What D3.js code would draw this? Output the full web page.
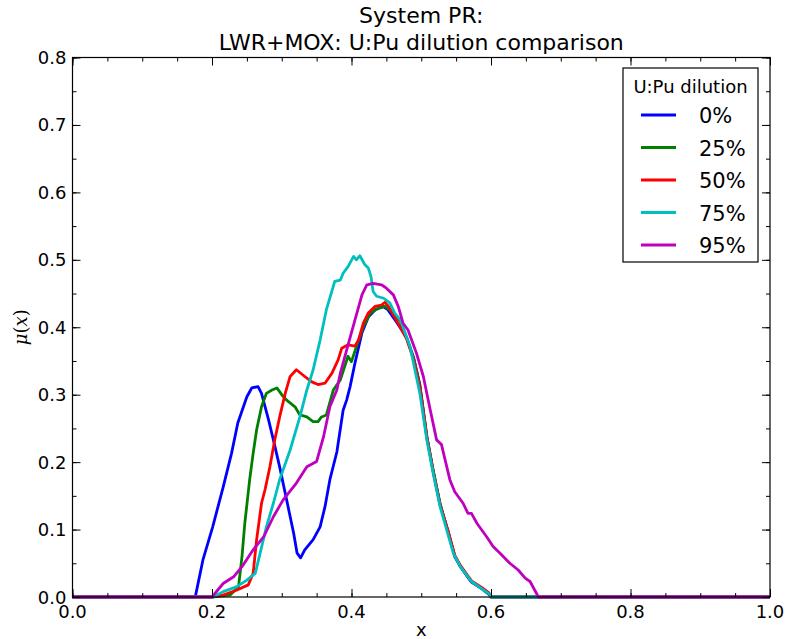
<!DOCTYPE html>
<html>
<head>
<meta charset="UTF-8">
<title>System PR</title>
<script src="https://d3js.org/d3.v7.min.js"></script>
<style>
  body {margin:0; background:#fff;}
  text {font-family: "DejaVu Sans", sans-serif; fill:#000;}
  .line {fill:none; stroke-width:2.8; stroke-linejoin:round;}
</style>
</head>
<body>
<div id="chart"></div>
<script>
// series
var labels = ["0%", "25%", "50%", "75%", "95%"];
var colors = ["#0000ff", "#008000", "#ff0000", "#00bfbf", "#bf00bf"];

var x0 = [0, 0.176, 0.181, 0.187, 0.201, 0.216, 0.228, 0.237, 0.250, 0.257, 0.266, 0.271, 0.281, 0.288, 0.297, 0.307, 0.317, 0.322, 0.327, 0.333, 0.345, 0.355, 0.362, 0.369, 0.379, 0.388, 0.393, 0.398, 0.405, 0.415, 0.424, 0.434, 0.445, 0.452, 0.465, 0.479, 0.489, 0.498, 0.508, 0.517, 0.527, 0.539, 0.548, 0.556, 0.565, 0.572, 0.587, 0.597, 0.600, 1.0];
var y0 = [0, 0, 0.025, 0.055, 0.104, 0.163, 0.213, 0.258, 0.297, 0.310, 0.312, 0.302, 0.263, 0.233, 0.193, 0.144, 0.095, 0.065, 0.058, 0.070, 0.085, 0.104, 0.134, 0.174, 0.215, 0.277, 0.292, 0.312, 0.347, 0.392, 0.415, 0.426, 0.431, 0.426, 0.407, 0.385, 0.355, 0.315, 0.238, 0.188, 0.138, 0.095, 0.060, 0.045, 0.032, 0.022, 0.012, 0.004, 0, 0];

var x25 = [0, 0.200, 0.226, 0.238, 0.243, 0.247, 0.254, 0.259, 0.264, 0.271, 0.278, 0.286, 0.293, 0.300, 0.307, 0.319, 0.326, 0.336, 0.345, 0.352, 0.357, 0.364, 0.374, 0.384, 0.395, 0.400, 0.407, 0.417, 0.427, 0.438, 0.448, 0.458, 0.470, 0.479, 0.489, 0.498, 0.508, 0.517, 0.527, 0.539, 0.548, 0.556, 0.565, 0.572, 0.587, 0.597, 0.600, 1.0];
var y25 = [0, 0, 0.003, 0.015, 0.060, 0.109, 0.174, 0.213, 0.248, 0.282, 0.302, 0.307, 0.310, 0.300, 0.292, 0.282, 0.270, 0.267, 0.260, 0.260, 0.267, 0.270, 0.307, 0.322, 0.357, 0.349, 0.371, 0.401, 0.421, 0.428, 0.431, 0.423, 0.409, 0.384, 0.354, 0.313, 0.236, 0.188, 0.138, 0.094, 0.061, 0.046, 0.033, 0.023, 0.013, 0.005, 0, 0];

var x50 = [0, 0.202, 0.216, 0.235, 0.252, 0.259, 0.264, 0.271, 0.276, 0.283, 0.290, 0.297, 0.305, 0.312, 0.321, 0.333, 0.343, 0.352, 0.362, 0.372, 0.381, 0.386, 0.395, 0.405, 0.410, 0.417, 0.424, 0.434, 0.443, 0.448, 0.453, 0.465, 0.479, 0.489, 0.498, 0.508, 0.517, 0.527, 0.539, 0.548, 0.556, 0.565, 0.572, 0.587, 0.597, 0.600, 1.0];
var y50 = [0, 0, 0.003, 0.010, 0.018, 0.035, 0.085, 0.139, 0.159, 0.193, 0.233, 0.267, 0.302, 0.327, 0.337, 0.327, 0.319, 0.315, 0.317, 0.332, 0.352, 0.369, 0.374, 0.372, 0.381, 0.406, 0.421, 0.431, 0.433, 0.437, 0.431, 0.409, 0.383, 0.352, 0.311, 0.238, 0.186, 0.136, 0.096, 0.062, 0.047, 0.034, 0.024, 0.014, 0.006, 0, 0];

var x75 = [0, 0.202, 0.216, 0.235, 0.250, 0.262, 0.269, 0.278, 0.288, 0.297, 0.312, 0.326, 0.336, 0.345, 0.355, 0.364, 0.376, 0.384, 0.388, 0.395, 0.403, 0.407, 0.412, 0.419, 0.424, 0.428, 0.431, 0.436, 0.446, 0.455, 0.462, 0.470, 0.484, 0.498, 0.508, 0.517, 0.527, 0.546, 0.556, 0.572, 0.599, 0.600, 1.0];
var y75 = [0, 0, 0.008, 0.015, 0.025, 0.035, 0.065, 0.104, 0.139, 0.174, 0.218, 0.267, 0.307, 0.337, 0.381, 0.426, 0.468, 0.470, 0.480, 0.490, 0.505, 0.500, 0.506, 0.493, 0.488, 0.475, 0.453, 0.446, 0.443, 0.436, 0.421, 0.411, 0.371, 0.302, 0.233, 0.184, 0.134, 0.065, 0.045, 0.023, 0.003, 0, 0];

var x95 = [0, 0.200, 0.216, 0.231, 0.243, 0.259, 0.274, 0.288, 0.302, 0.321, 0.336, 0.350, 0.360, 0.369, 0.379, 0.384, 0.393, 0.405, 0.415, 0.422, 0.431, 0.443, 0.450, 0.460, 0.467, 0.474, 0.481, 0.493, 0.503, 0.513, 0.522, 0.529, 0.541, 0.548, 0.560, 0.567, 0.572, 0.580, 0.594, 0.603, 0.613, 0.627, 0.639, 0.649, 0.656, 0.668, 1.0];
var y95 = [0, 0, 0.020, 0.030, 0.045, 0.070, 0.089, 0.119, 0.144, 0.169, 0.193, 0.201, 0.238, 0.282, 0.307, 0.332, 0.366, 0.411, 0.448, 0.463, 0.465, 0.463, 0.458, 0.448, 0.431, 0.406, 0.396, 0.362, 0.327, 0.277, 0.233, 0.226, 0.174, 0.156, 0.139, 0.124, 0.124, 0.109, 0.089, 0.075, 0.065, 0.050, 0.040, 0.028, 0.023, 0, 0];

var xTicks = [0, 0.2, 0.4, 0.6, 0.8, 1.0];
var yTicks = [0, 0.1, 0.2, 0.3, 0.4, 0.5, 0.6, 0.7, 0.8];

var series = [[x0, y0], [x25, y25], [x50, y50], [x75, y75], [x95, y95]];

var W = 787, H = 639;
var margin = {top: 57.5, right: 17, bottom: 42, left: 72.5},
    width = W - margin.left - margin.right,
    height = H - margin.top - margin.bottom;

var x = d3.scaleLinear().domain([0, 1]).range([0, width]);
var y = d3.scaleLinear().domain([0, 0.8]).range([height, 0]);

var svg = d3.select("#chart").append("svg")
    .attr("width", W)
    .attr("height", H);

var g = svg.append("g")
    .attr("transform", "translate(" + margin.left + "," + margin.top + ")");

// curves
var line = d3.line().x(function(d) { return x(d[0]); }).y(function(d) { return y(d[1]); });
series.forEach(function(s, i) {
  var pts = s[0].map(function(v, j) { return [v, s[1][j]]; });
  g.append("path").attr("class", "line").attr("d", line(pts)).attr("stroke", colors[i]);
});

// ticks inside, on all four sides
var minorX = d3.range(0, 1.0001, 0.05), minorY = d3.range(0, 0.8001, 0.05);
function tickAxis(axis, ticks, len) {
  return axis.tickValues(ticks).tickSize(-len).tickFormat("");
}
var axes = g.append("g").attr("class", "ticks");
axes.append("g").attr("transform", "translate(0," + height + ")").call(tickAxis(d3.axisBottom(x), minorX, 4));
axes.append("g").attr("transform", "translate(0," + height + ")").call(tickAxis(d3.axisBottom(x), xTicks, 8));
axes.append("g").call(tickAxis(d3.axisTop(x), minorX, 4));
axes.append("g").call(tickAxis(d3.axisTop(x), xTicks, 8));
axes.append("g").call(tickAxis(d3.axisLeft(y), minorY, 4));
axes.append("g").call(tickAxis(d3.axisLeft(y), yTicks, 8));
axes.append("g").attr("transform", "translate(" + width + ",0)").call(tickAxis(d3.axisRight(y), minorY, 4));
axes.append("g").attr("transform", "translate(" + width + ",0)").call(tickAxis(d3.axisRight(y), yTicks, 8));
axes.selectAll(".domain").remove();
axes.selectAll("line").attr("stroke", "#000").attr("stroke-width", 1);

g.append("rect").attr("width", width).attr("height", height)
  .attr("fill", "none").attr("stroke", "#000").attr("stroke-width", 1.2);

// tick labels
g.selectAll(".xl").data(xTicks).enter().append("text")
  .attr("x", function(d) { return x(d); }).attr("y", height + 21)
  .attr("text-anchor", "middle").style("font-size", "18px")
  .text(function(d) { return d.toFixed(1); });
g.selectAll(".yl").data(yTicks).enter().append("text")
  .attr("x", -6).attr("y", function(d) { return y(d) + 6.5; })
  .attr("text-anchor", "end").style("font-size", "18px")
  .text(function(d) { return d.toFixed(1); });

// axis labels
svg.append("text").attr("x", margin.left + width / 2).attr("y", 636)
  .attr("text-anchor", "middle").style("font-size", "18px").text("x");
var yl = svg.append("text").attr("transform", "translate(27," + (margin.top + height / 2) + ") rotate(-90)")
  .attr("text-anchor", "middle").style("font-size", "18px");
yl.append("tspan").style("font-family", "DejaVu Serif").style("font-style", "italic").text("μ");
yl.append("tspan").style("font-family", "DejaVu Serif").text("(");
yl.append("tspan").style("font-family", "DejaVu Serif").style("font-style", "italic").text("x");
yl.append("tspan").style("font-family", "DejaVu Serif").text(")");

// title
svg.append("text").attr("x", margin.left + width / 2).attr("y", 23)
  .attr("text-anchor", "middle").style("font-size", "22px").text("System PR:");
svg.append("text").attr("x", margin.left + width / 2).attr("y", 50)
  .attr("text-anchor", "middle").style("font-size", "22px").text("LWR+MOX: U:Pu dilution comparison");

// legend
var leg = svg.append("g").attr("transform", "translate(623,68)");
leg.append("rect").attr("width", 135).attr("height", 194)
  .attr("fill", "#fff").attr("stroke", "#000").attr("stroke-width", 1.2);
leg.append("text").attr("x", 67.5).attr("y", 25).attr("text-anchor", "middle")
  .style("font-size", "18px").text("U:Pu dilution");
labels.forEach(function(l, i) {
  var cy = 47 + i * 32.5;
  leg.append("line").attr("x1", 18).attr("x2", 53).attr("y1", cy).attr("y2", cy)
    .attr("stroke", colors[i]).attr("stroke-width", 2.8);
  leg.append("text").attr("x", 76).attr("y", cy + 8).attr("text-anchor", "start")
    .style("font-size", "21px").text(l);
});
</script>
</body>
</html>
